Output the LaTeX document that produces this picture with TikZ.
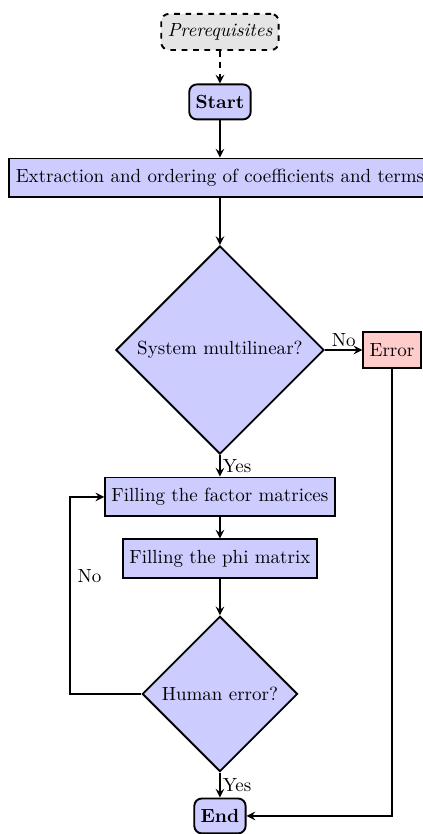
\documentclass[tikz,border=0pt]{standalone}
\usetikzlibrary{arrows.meta, positioning, shapes.geometric}

\begin{document}
\begin{tikzpicture} [node distance = 1.5cm, on grid, auto,
    block/.style = {rectangle, draw, line width=1pt, fill=blue!20, minimum height=20.5pt},
    terminal/.style = {rectangle, rounded corners=4pt, draw, line width=1pt, fill=blue!20, minimum height=18.4pt, font=\bfseries},
    decision/.style = {diamond, aspect=1, draw, line width=1pt, fill=blue!20},
    prereq/.style = {rectangle, rounded corners=4pt, draw, line width=1pt, dashed, fill=gray!20, minimum height=19pt, font=\itshape},
    errbox/.style = {rectangle, draw, line width=1pt, fill=red!20, minimum height=19pt}]
    \useasboundingbox (-115.7pt,16.8pt) rectangle (106.3pt,-421.9pt);

    \node (pre) [prereq] at (0,0) {Prerequisites};
    \node (start) [terminal, below = 36.8pt of pre] {Start};
    \node (extract) [block, below = 40pt of start] {Extraction and ordering of coefficients and terms};
    \node (multi) [decision, below = 90.5pt of extract] {System multilinear?};
    \node (error) [errbox, right = 90.5pt of multi] {Error};
    \node (factor) [block, below = 77.3pt of multi] {Filling the factor matrices};
    \node (phi) [block, below = 32.6pt of factor] {Filling the phi matrix};
    \node (human) [decision, below = 71pt of phi] {Human error?};
    \node (end) [terminal, below = 64.2pt of human] {End};
    \coordinate [left = 37.3pt of human.west] (back);

    \path [-stealth, line width=1pt, dashed] (pre) edge (start);
    \path [-stealth, line width=1pt] (start) edge (extract);
    \path [-stealth, line width=1pt] (extract) edge (multi);
    \path [-stealth, line width=1pt] (multi) edge node [above, inner sep=1pt] {No} (error);
    \path [-stealth, line width=1pt] (multi) edge node [right, inner sep=1pt] {Yes} (factor);
    \path [-stealth, line width=1pt] (factor) edge (phi);
    \path [-stealth, line width=1pt] (phi) edge (human);
    \path [-stealth, line width=1pt] (human) edge node [right, inner sep=1pt] {Yes} (end);
    \draw [-stealth, line width=1pt] (error) |- (end);
    \draw [-stealth, line width=1pt] (human) -- (back) |- node [pos=0.3, right] {No} (factor);
\end{tikzpicture}
\end{document}
